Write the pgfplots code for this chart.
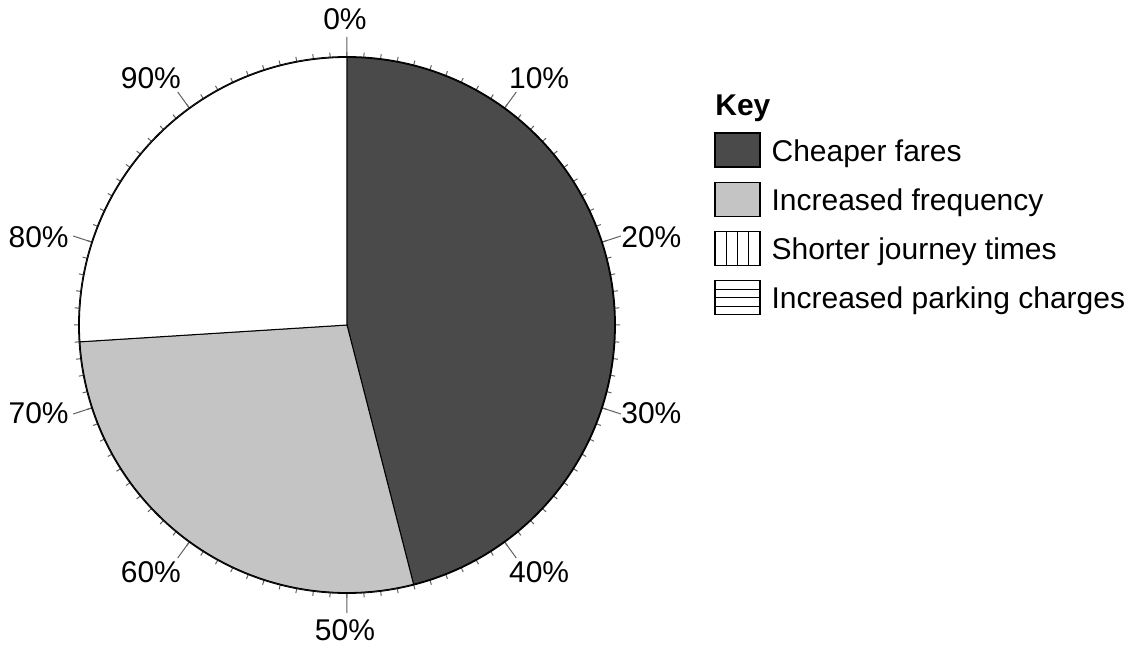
\documentclass[border=0pt]{standalone}
\usepackage{fontspec}
\setmainfont{Liberation Sans}
\usepackage{pgfplots}
\usepackage{pgfplotstable}
\pgfplotsset{compat=1.18}
\usepgfplotslibrary{polar}

\definecolor{faredark}{HTML}{4A4A4A}
\definecolor{freqlight}{HTML}{C4C4C4}
\definecolor{tickgray}{HTML}{606060}

% shares in percent, clockwise from the top (cumulative)
\pgfplotstableread{
slice start end
fares 0 46
frequency 46 74
rest 74 100
}\pietable

\begin{document}
\begin{tikzpicture}[font=\fontsize{15}{18}\selectfont]
\pgfplotstablegetelem{0}{start}\of\pietable \let\faresA\pgfplotsretval
\pgfplotstablegetelem{0}{end}\of\pietable \let\faresB\pgfplotsretval
\pgfplotstablegetelem{1}{start}\of\pietable \let\freqA\pgfplotsretval
\pgfplotstablegetelem{1}{end}\of\pietable \let\freqB\pgfplotsretval
\pgfplotstablegetelem{2}{start}\of\pietable \let\restA\pgfplotsretval
\pgfplotstablegetelem{2}{end}\of\pietable \let\restB\pgfplotsretval
\begin{polaraxis}[
  at={(0pt,0pt)}, anchor=center,
  scale only axis, width=268pt, height=268pt,
  xmin=0, xmax=360, ymin=0, ymax=1,
  xtick={18,54,90,126,162,198,234,270,306,342},
  xticklabels={20\%,10\%,0\%,90\%,80\%,70\%,60\%,50\%,40\%,30\%},
  minor xtick={0,3.6,...,356.4},
  xtick align=center,
  major tick length=20pt, minor tick length=5pt,
  tick style={draw=tickgray, line width=0.5pt},
  xmajorgrids=false, ymajorgrids=false,
  ytick=\empty,
  y axis line style={draw=none},
  x axis line style={line width=0.9pt},
  xticklabel style={anchor=center, inner sep=0pt, outer sep=0pt,
    xshift={30.5pt*cos(\tick)+6.25pt*max(-1,min(1,20*cos(\tick)))-1pt},
    yshift={35pt*sin(\tick)-5pt*max(-1,min(1,20*sin(\tick)))-12pt*max(0,abs(sin(\tick))-0.9)*sin(\tick)}},
  legend style={at={(axis description cs:1.1847,0.8600)}, anchor=north west,
    draw=none, fill=none, inner sep=0pt, row sep=7pt, column sep=5.5pt,
    nodes={inner sep=0pt}, cells={anchor=base west}},
]
\filldraw[fill=faredark, draw=black, line width=0.5pt]
  (axis cs:0,0) -- (axis cs:{90-3.6*\faresA},1)
  arc[start angle={90-3.6*\faresA}, end angle={90-3.6*\faresB}, radius=134pt] -- cycle;
\filldraw[fill=freqlight, draw=black, line width=0.5pt]
  (axis cs:0,0) -- (axis cs:{90-3.6*\freqA},1)
  arc[start angle={90-3.6*\freqA}, end angle={90-3.6*\freqB}, radius=134pt] -- cycle;
\filldraw[fill=white, draw=black, line width=0.5pt]
  (axis cs:0,0) -- (axis cs:{90-3.6*\restA},1)
  arc[start angle={90-3.6*\restA}, end angle={90-3.6*\restB}, radius=134pt] -- cycle;
\draw[line width=0.9pt] (axis cs:0,0) circle[radius=134pt];

\addlegendimage{legend image code/.code={
  \filldraw[fill=faredark, draw=black, line width=0.6pt] (0pt,-3pt) rectangle (22.5pt,14pt);}}
\addlegendentry{Cheaper fares}
\addlegendimage{legend image code/.code={
  \filldraw[fill=freqlight, draw=black, line width=0.6pt] (0pt,-3pt) rectangle (22.5pt,14pt);}}
\addlegendentry{Increased frequency}
\addlegendimage{legend image code/.code={
  \draw[line width=0.6pt] (0pt,-3pt) rectangle (22.5pt,14pt);
  \draw[line width=0.5pt] (5.6pt,-3pt) -- (5.6pt,14pt) (11.2pt,-3pt) -- (11.2pt,14pt) (16.9pt,-3pt) -- (16.9pt,14pt);}}
\addlegendentry{Shorter journey times}
\addlegendimage{legend image code/.code={
  \draw[line width=0.6pt] (0pt,-3pt) rectangle (22.5pt,14pt);
  \draw[line width=0.5pt] (0pt,1.2pt) -- (22.5pt,1.2pt) (0pt,5.5pt) -- (22.5pt,5.5pt) (0pt,9.8pt) -- (22.5pt,9.8pt);}}
\addlegendentry{Increased parking charges}
\end{polaraxis}
\node[anchor=base west, inner sep=0pt, font=\fontsize{15}{18}\selectfont\bfseries] at (184pt,104.5pt) {Key};
\pgfresetboundingbox
\path[use as bounding box] (-173.5pt,162.5pt) rectangle (398.5pt,-160.5pt);
\end{tikzpicture}
\end{document}
